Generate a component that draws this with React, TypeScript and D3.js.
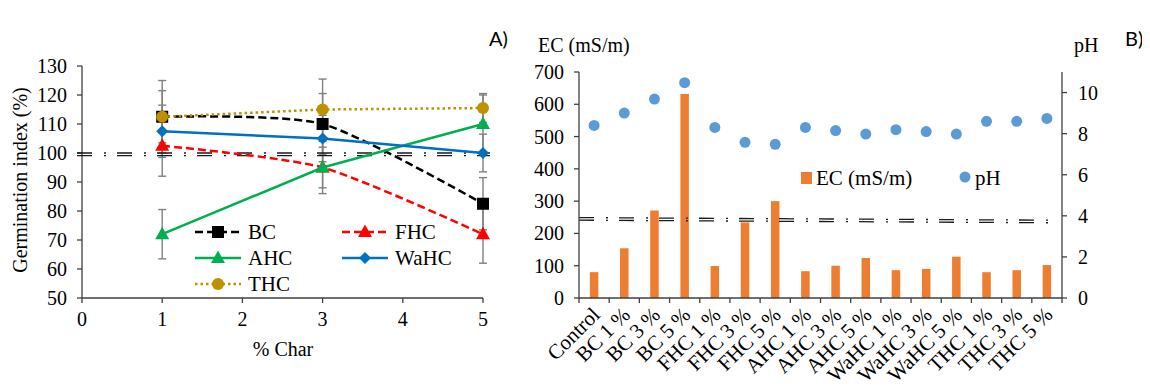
import React from "react";
import * as d3 from "d3";

// Panel A: germination index
const charLevels = [1, 3, 5];
const bcValues = [112.5, 110, 82.5];
const fhcValues = [102.5, 95, 72];
const ahcValues = [72, 95, 110];
const wahcValues = [107.5, 105, 100];
const thcValues = [112.5, 115, 115.5];
const bcErr = [9, 10.5, 9];
const fhcErr = [10.5, 9, 10];
const ahcErr = [8.5, 7, 10];
const wahcErr = [9, 8, 6.5];
const thcErr = [12.5, 10.5, 5];
const giTicks = [50, 60, 70, 80, 90, 100, 110, 120, 130];
const charTicks = [0, 1, 2, 3, 4, 5];

// Panel B: EC and pH
const treatments = [
  "Control", "BC 1 %", "BC 3 %", "BC 5 %", "FHC 1 %", "FHC 3 %", "FHC 5 %",
  "AHC 1 %", "AHC 3 %", "AHC 5 %", "WaHC 1 %", "WaHC 3 %", "WaHC 5 %",
  "THC 1 %", "THC 3 %", "THC 5 %",
];
const ecValues = [80, 154, 271, 632, 99, 234, 300, 83, 100, 124, 86, 90, 128, 80, 86, 102];
const phValues = [8.4, 9.0, 9.68, 10.48, 8.3, 7.58, 7.48, 8.3, 8.15, 7.98, 8.19, 8.1, 7.98, 8.6, 8.6, 8.74];
const ecTicks = [0, 100, 200, 300, 400, 500, 600, 700];
const phTicks = [0, 2, 4, 6, 8, 10];

const serif = "'Liberation Serif', 'Times New Roman', serif";
const axisColor = "#404040";
const fs = 20;

const series = [
  { name: "BC", values: bcValues, err: bcErr, color: "#000000", dash: "8 4", marker: "square", smooth: true },
  { name: "FHC", values: fhcValues, err: fhcErr, color: "#FF0000", dash: "8 4", marker: "triangle", smooth: true },
  { name: "AHC", values: ahcValues, err: ahcErr, color: "#00B050", dash: null, marker: "triangle", smooth: false },
  { name: "WaHC", values: wahcValues, err: wahcErr, color: "#0070C0", dash: null, marker: "diamond", smooth: false },
  { name: "THC", values: thcValues, err: thcErr, color: "#BF9000", dash: "2.5 3", marker: "circle", smooth: false },
];

const Marker = ({ type, x, y, color }: { type: string; x: number; y: number; color: string }) => {
  if (type === "square") return <rect x={x - 6} y={y - 6} width={12} height={12} fill={color} />;
  if (type === "triangle")
    return <path d={`M${x},${y - 7.5}L${x + 7},${y + 5}L${x - 7},${y + 5}Z`} fill={color} />;
  if (type === "diamond")
    return <path d={`M${x},${y - 6}L${x + 6},${y}L${x},${y + 6}L${x - 6},${y}Z`} fill={color} />;
  return <circle cx={x} cy={y} r={6} fill={color} />;
};

// two parallel dash-dot reference lines
const DoubleRule = ({ x1, x2, ya1, ya2, yb1, yb2 }: any) => (
  <g stroke="#1a1a1a" strokeWidth={1.3} fill="none" strokeDasharray="15 12 2 11">
    <line x1={x1} x2={x2} y1={ya1} y2={ya2} />
    <line x1={x1} x2={x2} y1={yb1} y2={yb2} />
  </g>
);

const PanelA = () => {
  const x = d3.scaleLinear().domain([0, 5]).range([82, 483]);
  const y = d3.scaleLinear().domain([50, 130]).range([298, 66]);
  const smoothLine = d3.line<number>().x((_, i) => x(charLevels[i])).y((d) => y(d)).curve(d3.curveCardinal.tension(0.3));
  const straightLine = d3.line<number>().x((_, i) => x(charLevels[i])).y((d) => y(d));
  const legend = [
    { s: series[0], lx: 195, ly: 232 },
    { s: series[1], lx: 342, ly: 232 },
    { s: series[2], lx: 195, ly: 258 },
    { s: series[3], lx: 342, ly: 258 },
    { s: series[4], lx: 195, ly: 284 },
  ];
  return (
    <g style={{ fontFamily: serif }}>
      {/* axes */}
      <line x1={x(0)} x2={x(0)} y1={y(130)} y2={y(50)} stroke={axisColor} strokeWidth={1.3} />
      <line x1={x(0)} x2={x(5)} y1={y(50)} y2={y(50)} stroke={axisColor} strokeWidth={1.3} />
      {giTicks.map((t) => (
        <g key={t}>
          <line x1={x(0) - 5} x2={x(0)} y1={y(t)} y2={y(t)} stroke={axisColor} strokeWidth={1.3} />
          <text x={x(0) - 15} y={y(t)} dy="0.35em" textAnchor="end" fontSize={fs}>{t}</text>
        </g>
      ))}
      {charTicks.map((t) => (
        <g key={t}>
          <line x1={x(t)} x2={x(t)} y1={y(50)} y2={y(50) + 5} stroke={axisColor} strokeWidth={1.3} />
          <text x={x(t)} y={y(50) + 28} textAnchor="middle" fontSize={fs}>{t}</text>
        </g>
      ))}
      <text x={283} y={356} textAnchor="middle" fontSize={fs}>% Char</text>
      <text transform="translate(27,180) rotate(-90)" textAnchor="middle" fontSize={fs}>Germination index (%)</text>

      {/* error bars */}
      <g stroke="#808080" strokeWidth={1.4}>
        {series.map((s) =>
          s.values.map((v, i) => {
            const cx = x(charLevels[i]);
            return (
              <g key={s.name + i}>
                <line x1={cx} x2={cx} y1={y(v + s.err[i])} y2={y(v - s.err[i])} />
                <line x1={cx - 4} x2={cx + 4} y1={y(v + s.err[i])} y2={y(v + s.err[i])} />
                <line x1={cx - 4} x2={cx + 4} y1={y(v - s.err[i])} y2={y(v - s.err[i])} />
              </g>
            );
          })
        )}
      </g>

      <DoubleRule x1={77} x2={490} ya1={y(100)} ya2={y(100)} yb1={y(99.1)} yb2={y(99.1)} />

      {/* lines */}
      {series.map((s) => (
        <path
          key={s.name}
          d={(s.smooth ? smoothLine : straightLine)(s.values) || ""}
          fill="none"
          stroke={s.color}
          strokeWidth={2.5}
          strokeDasharray={s.dash || undefined}
        />
      ))}
      {series.map((s) =>
        s.values.map((v, i) => <Marker key={s.name + i} type={s.marker} x={x(charLevels[i])} y={y(v)} color={s.color} />)
      )}

      {/* legend */}
      {legend.map(({ s, lx, ly }) => (
        <g key={s.name}>
          <line x1={lx} x2={lx + 46} y1={ly} y2={ly} stroke={s.color} strokeWidth={2.5} strokeDasharray={s.dash || undefined} />
          <Marker type={s.marker} x={lx + 23} y={ly} color={s.color} />
          <text x={lx + 53} y={ly} dy="0.35em" fontSize={21}>{s.name}</text>
        </g>
      ))}
    </g>
  );
};

const PanelB = () => {
  const left = 579;
  const right = 1062;
  const x = d3.scaleBand().domain(treatments).range([left, right]);
  const yEc = d3.scaleLinear().domain([0, 700]).range([298, 72]);
  const yPh = d3.scaleLinear().domain([0, 11]).range([298, 72]);
  const barW = 8.5;
  return (
    <g style={{ fontFamily: serif }}>
      {ecValues.map((v, i) => {
        const cx = (x(treatments[i]) || 0) + x.bandwidth() / 2;
        return <rect key={i} x={cx - barW / 2} y={yEc(v)} width={barW} height={yEc(0) - yEc(v)} fill="#ED7D31" />;
      })}
      <DoubleRule x1={left} x2={1053} ya1={yEc(249)} ya2={yEc(241)} yb1={yEc(241)} yb2={yEc(233)} />
      {phValues.map((v, i) => {
        const cx = (x(treatments[i]) || 0) + x.bandwidth() / 2;
        return <circle key={i} cx={cx} cy={yPh(v)} r={5.5} fill="#5B9BD5" />;
      })}

      {/* axes */}
      <line x1={left} x2={left} y1={72} y2={298} stroke={axisColor} strokeWidth={1.3} />
      <line x1={right} x2={right} y1={72} y2={298} stroke={axisColor} strokeWidth={1.3} />
      <line x1={left} x2={right} y1={298} y2={298} stroke={axisColor} strokeWidth={1.3} />
      {ecTicks.map((t) => (
        <g key={t}>
          <line x1={left - 5} x2={left} y1={yEc(t)} y2={yEc(t)} stroke={axisColor} strokeWidth={1.3} />
          <text x={left - 15} y={yEc(t)} dy="0.35em" textAnchor="end" fontSize={fs}>{t}</text>
        </g>
      ))}
      {phTicks.map((t) => (
        <g key={t}>
          <line x1={right} x2={right + 5} y1={yPh(t)} y2={yPh(t)} stroke={axisColor} strokeWidth={1.3} />
          <text x={right + 16} y={yPh(t)} dy="0.35em" textAnchor="start" fontSize={fs}>{t}</text>
        </g>
      ))}
      {treatments.map((t) => {
        const l = x(t) || 0;
        const cx = l + x.bandwidth() / 2;
        return (
          <g key={t}>
            <line x1={l} x2={l} y1={298} y2={303} stroke={axisColor} strokeWidth={1.3} />
            <text transform={`translate(${cx + 7},${316}) rotate(-45)`} textAnchor="end" fontSize={21}>{t}</text>
          </g>
        );
      })}
      <line x1={right} x2={right} y1={298} y2={303} stroke={axisColor} strokeWidth={1.3} />
      <text x={538} y={52} fontSize={fs}>EC (mS/m)</text>
      <text x={1074} y={52} fontSize={fs}>pH</text>

      {/* legend */}
      <rect x={801} y={172} width={11} height={12} fill="#ED7D31" />
      <text x={816} y={178} dy="0.35em" fontSize={21}>EC (mS/m)</text>
      <circle cx={965} cy={177} r={5.5} fill="#5B9BD5" />
      <text x={975} y={178} dy="0.35em" fontSize={21}>pH</text>
    </g>
  );
};

export default function App() {
  return (
    <svg width={1150} height={388} style={{ display: "block", margin: -8 }}>
      <rect width={1150} height={388} fill="#fff" />
      <PanelA />
      <PanelB />
      <text x={489} y={46} style={{ fontFamily: "Lato, 'Open Sans', sans-serif" }} fontSize={20}>A)</text>
      <text x={1125} y={46} style={{ fontFamily: "Lato, 'Open Sans', sans-serif" }} fontSize={20}>B)</text>
    </svg>
  );
}
